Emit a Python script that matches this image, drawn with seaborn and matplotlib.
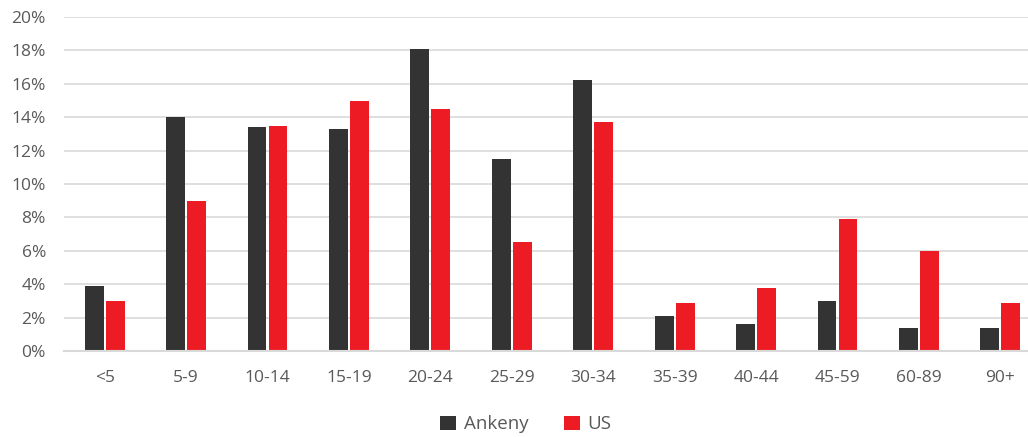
import numpy as np
import pandas as pd
import matplotlib.pyplot as plt
import seaborn as sns

# age groups and shares (percent)
age_groups = ["<5", "5-9", "10-14", "15-19", "20-24", "25-29", "30-34",
              "35-39", "40-44", "45-59", "60-89", "90+"]
ankeny = [3.9, 14.0, 13.4, 13.3, 18.1, 11.5, 16.2, 2.1, 1.6, 3.0, 1.4, 1.4]
us = [3.0, 9.0, 13.5, 15.0, 14.5, 6.5, 13.7, 2.9, 3.8, 7.9, 6.0, 2.9]

df = pd.DataFrame({
    "age": age_groups * 2,
    "share": ankeny + us,
    "who": ["Ankeny"] * len(ankeny) + ["US"] * len(us),
})

sns.set_style("white")
plt.rcParams['font.family'] = ['Open Sans', 'DejaVu Sans']
text_col = "#595959"

fig = plt.figure(figsize=(10.28, 4.37), dpi=100)
ax = fig.add_axes([64 / 1028, 86 / 437, (1041 - 64) / 1028, 334 / 437])

sns.barplot(data=df, x="age", y="share", hue="who",
            palette=["#333333", "#ED1C24"], width=0.515, gap=0.1,
            saturation=1, linewidth=0, ax=ax, legend=True)

ax.set_ylim(0, 20)
ax.set_xlim(-0.5, 11.5)
ax.set_yticks(np.arange(0, 21, 2))
ax.set_yticklabels([f"{v}%" for v in range(0, 21, 2)])
ax.yaxis.grid(True, color="#d9d9d9", linewidth=1.2)
ax.set_axisbelow(True)
for s in ["top", "right", "left"]:
    ax.spines[s].set_visible(False)
ax.spines["bottom"].set_color("#d9d9d9")
ax.spines["bottom"].set_linewidth(1.5)
ax.spines["bottom"].set_zorder(5)
ax.tick_params(axis="y", length=0, labelsize=12.5, colors=text_col, pad=13)
ax.tick_params(axis="x", length=0, labelsize=12.5, colors=text_col, pad=14)
ax.set_xlabel("")
ax.set_ylabel("")

# legend centred under the visible part of the figure
leg_x = (526 - 64) / (1041 - 64)
ax.legend(loc="center", bbox_to_anchor=(leg_x, -0.22),
          ncol=2, frameon=False, fontsize=13.5, labelcolor=text_col,
          handlelength=0.85, handleheight=0.85, columnspacing=1.9, handletextpad=0.4)

fig.savefig("out.png", dpi=100)
